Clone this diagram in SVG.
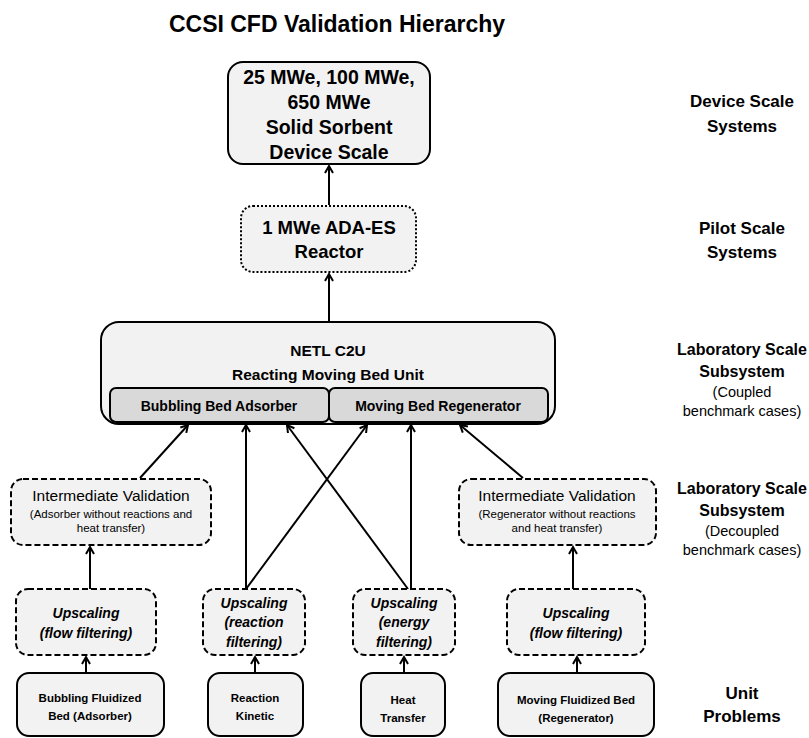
<svg xmlns="http://www.w3.org/2000/svg" width="809" height="738" viewBox="0 0 809 738">
  <defs>
    <marker id="arrow" markerUnits="userSpaceOnUse" markerWidth="12" markerHeight="12" refX="9" refY="5" orient="auto">
      <path d="M2,1 L9,5 L2,9" fill="none" stroke="#000" stroke-width="2"/>
    </marker>
    <style>
      text { font-family: "Liberation Sans", Arial, sans-serif; fill: #000; text-anchor: middle; }
      .box { fill: #f2f2f2; stroke: #000; stroke-width: 2; }
      .dotted { stroke-dasharray: 2 2; }
      .dashed { stroke-dasharray: 6 3; }
      .sub { fill: #d9d9d9; stroke: #000; stroke-width: 2; }
      .b { font-weight: bold; }
      .bi { font-weight: bold; font-style: italic; }
      .conn line { stroke: #000; stroke-width: 2; marker-end: url(#arrow); }
    </style>
  </defs>
  <rect width="809" height="738" fill="#fff"/>

  <text x="337" y="32" class="b" font-size="23">CCSI CFD Validation Hierarchy</text>

  <!-- scale labels on the right -->
  <g id="scale-labels">
    <text x="742" y="107" class="b" font-size="17">Device Scale</text>
    <text x="742" y="132" class="b" font-size="17">Systems</text>
    <text x="742" y="234" class="b" font-size="17">Pilot Scale</text>
    <text x="742" y="258" class="b" font-size="17">Systems</text>
    <text x="742" y="355" class="b" font-size="16">Laboratory Scale</text>
    <text x="742" y="377" class="b" font-size="16">Subsystem</text>
    <text x="742" y="397" font-size="14.5">(Coupled</text>
    <text x="742" y="416" font-size="14.5">benchmark cases)</text>
    <text x="742" y="494" class="b" font-size="16">Laboratory Scale</text>
    <text x="742" y="516" class="b" font-size="16">Subsystem</text>
    <text x="742" y="536" font-size="14.5">(Decoupled</text>
    <text x="742" y="555" font-size="14.5">benchmark cases)</text>
    <text x="742" y="699" class="b" font-size="17">Unit</text>
    <text x="742" y="722" class="b" font-size="17">Problems</text>
  </g>

  <!-- connectors -->
  <g id="connectors" class="conn">
    <line x1="329" y1="205" x2="329" y2="166"/>
    <line x1="329" y1="322" x2="329" y2="274"/>
    <line x1="140" y1="478" x2="188" y2="425"/>
    <line x1="246" y1="589" x2="246" y2="425"/>
    <line x1="408" y1="589" x2="287" y2="425"/>
    <line x1="246" y1="589" x2="367" y2="425"/>
    <line x1="411" y1="589" x2="411" y2="425"/>
    <line x1="523" y1="478" x2="460" y2="425"/>
    <line x1="90" y1="589" x2="90" y2="547"/>
    <line x1="573" y1="589" x2="573" y2="547"/>
    <line x1="86" y1="673" x2="86" y2="657"/>
    <line x1="255" y1="673" x2="255" y2="657"/>
    <line x1="404" y1="673" x2="404" y2="657"/>
    <line x1="577" y1="673" x2="577" y2="657"/>
  </g>

  <g id="device-scale">
    <rect x="228" y="62" width="202" height="102" rx="15" class="box"/>
    <text x="329" y="84" class="b" font-size="19.5">25 MWe, 100 MWe,</text>
    <text x="329" y="109" class="b" font-size="19.5">650 MWe</text>
    <text x="329" y="134" class="b" font-size="19.5">Solid Sorbent</text>
    <text x="329" y="159" class="b" font-size="19.5">Device Scale</text>
  </g>

  <g id="pilot-scale">
    <rect x="241" y="206" width="175" height="66" rx="12" class="box dotted"/>
    <text x="329" y="234" class="b" font-size="18.5">1 MWe ADA-ES</text>
    <text x="329" y="258" class="b" font-size="18.5">Reactor</text>
  </g>

  <g id="netl-c2u">
    <rect x="101" y="322" width="454" height="102" rx="18" class="box"/>
    <text x="328" y="356" class="b" font-size="15.5">NETL C2U</text>
    <text x="328" y="380" class="b" font-size="15.5">Reacting Moving Bed Unit</text>
  </g>

  <g id="adsorber">
    <rect x="110" y="388" width="219" height="34" rx="6" class="sub"/>
    <text x="219" y="411" class="b" font-size="14">Bubbling Bed Adsorber</text>
  </g>

  <g id="regenerator">
    <rect x="329" y="388" width="219" height="34" rx="6" class="sub"/>
    <text x="438" y="411" class="b" font-size="14">Moving Bed Regenerator</text>
  </g>

  <g id="intermediate-adsorber">
    <rect x="11" y="479" width="200" height="66" rx="12" class="box dashed"/>
    <text x="111" y="501" font-size="15.5">Intermediate Validation</text>
    <text x="111" y="518" font-size="11.5">(Adsorber without reactions and</text>
    <text x="111" y="532" font-size="11.5">heat transfer)</text>
  </g>

  <g id="intermediate-regenerator">
    <rect x="459" y="479" width="197" height="66" rx="12" class="box dashed"/>
    <text x="557" y="501" font-size="15.5">Intermediate Validation</text>
    <text x="557" y="518" font-size="11.5">(Regenerator without reactions</text>
    <text x="557" y="532" font-size="11.5">and heat transfer)</text>
  </g>

  <g id="upscaling-flow-1">
    <rect x="16" y="589" width="140" height="66" rx="12" class="box dashed"/>
    <text x="86" y="618" class="bi" font-size="14">Upscaling</text>
    <text x="86" y="638" class="bi" font-size="14">(flow filtering)</text>
  </g>

  <g id="upscaling-reaction">
    <rect x="203" y="589" width="102" height="66" rx="12" class="box dashed"/>
    <text x="254" y="608" class="bi" font-size="14">Upscaling</text>
    <text x="254" y="627" class="bi" font-size="14">(reaction</text>
    <text x="254" y="647" class="bi" font-size="14">filtering)</text>
  </g>

  <g id="upscaling-energy">
    <rect x="353" y="589" width="102" height="66" rx="12" class="box dashed"/>
    <text x="404" y="608" class="bi" font-size="14">Upscaling</text>
    <text x="404" y="627" class="bi" font-size="14">(energy</text>
    <text x="404" y="647" class="bi" font-size="14">filtering)</text>
  </g>

  <g id="upscaling-flow-2">
    <rect x="507" y="589" width="138" height="66" rx="12" class="box dashed"/>
    <text x="576" y="618" class="bi" font-size="14">Upscaling</text>
    <text x="576" y="638" class="bi" font-size="14">(flow filtering)</text>
  </g>

  <g id="unit-bubbling">
    <rect x="17" y="673" width="147" height="63" rx="12" class="box"/>
    <text x="90" y="702" class="b" font-size="11.5">Bubbling Fluidized</text>
    <text x="90" y="720" class="b" font-size="11.5">Bed (Adsorber)</text>
  </g>

  <g id="unit-kinetic">
    <rect x="208" y="673" width="95" height="63" rx="12" class="box"/>
    <text x="255" y="702" class="b" font-size="11.5">Reaction</text>
    <text x="255" y="720" class="b" font-size="11.5">Kinetic</text>
  </g>

  <g id="unit-heat">
    <rect x="361" y="673" width="84" height="63" rx="12" class="box"/>
    <text x="403" y="704" class="b" font-size="11.5">Heat</text>
    <text x="403" y="722" class="b" font-size="11.5">Transfer</text>
  </g>

  <g id="unit-moving">
    <rect x="498" y="673" width="156" height="63" rx="12" class="box"/>
    <text x="576" y="704" class="b" font-size="11.5">Moving Fluidized Bed</text>
    <text x="576" y="722" class="b" font-size="11.5">(Regenerator)</text>
  </g>
</svg>
